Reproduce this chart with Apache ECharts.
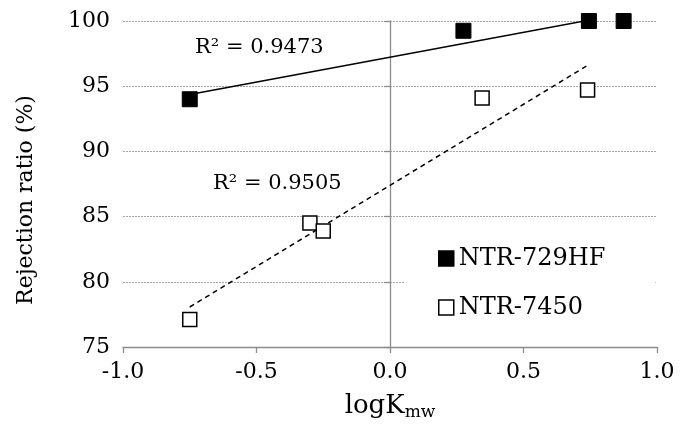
<!DOCTYPE html>
<html>
<head>
<meta charset="utf-8">
<script src="https://cdn.jsdelivr.net/npm/echarts@6/dist/echarts.min.js"></script>
<style>
  html, body { margin: 0; padding: 0; background: #fff; }
  #chart { width: 680px; height: 427px; }
</style>
</head>
<body>
<div id="chart"></div>
<script>
// Membrane rejection vs. logKmw
const seriesNames = ['NTR-729HF', 'NTR-7450'];
const hfLogK = [-0.75, 0.275, 0.745, 0.875];
const hfRejection = [94.0, 99.25, 100.0, 100.0];
const n7450LogK = [-0.75, -0.30, -0.25, 0.345, 0.74];
const n7450Rejection = [77.1, 84.5, 83.9, 94.1, 94.7];
const r2Labels = ['R\u00b2 = 0.9473', 'R\u00b2 = 0.9505'];
const yTitle = 'Rejection ratio (%)';
const xTicks = [-1.0, -0.5, 0.0, 0.5, 1.0];
const yTicks = [75, 80, 85, 90, 95, 100];

const FONT = '"DejaVu Serif", "Liberation Serif", serif';

// ordinary least squares fit, drawn between smallest and largest x
function fitLine(xs, ys) {
  const n = xs.length;
  const mx = xs.reduce((a, b) => a + b, 0) / n;
  const my = ys.reduce((a, b) => a + b, 0) / n;
  let sxy = 0, sxx = 0;
  for (let i = 0; i < n; i++) {
    sxy += (xs[i] - mx) * (ys[i] - my);
    sxx += (xs[i] - mx) * (xs[i] - mx);
  }
  const b = sxy / sxx, a = my - b * mx;
  const x0 = Math.min(...xs), x1 = Math.max(...xs);
  return [[x0, a + b * x0], [x1, a + b * x1]];
}

const pairs = (xs, ys) => xs.map((x, i) => [x, ys[i]]);

const chart = echarts.init(document.getElementById('chart'), null, { renderer: 'canvas' });

chart.setOption({
  animation: false,
  backgroundColor: '#ffffff',
  textStyle: { fontFamily: FONT },
  grid: { left: 123, right: 23, top: 21, bottom: 80, containLabel: false },
  xAxis: {
    type: 'value',
    min: xTicks[0], max: xTicks[xTicks.length - 1], interval: 0.5,
    name: '{a|logK}{b|mw}',
    nameLocation: 'middle',
    nameGap: 44,
    nameTextStyle: {
      rich: {
        a: { fontFamily: FONT, fontSize: 26, color: '#000' },
        b: { fontFamily: FONT, fontSize: 17, color: '#000', padding: [13, 0, 0, 0] }
      }
    },
    axisLine: { onZero: false, lineStyle: { color: '#8c8c8c', width: 1.3 } },
    axisTick: { show: true, inside: false, length: 6, lineStyle: { color: '#8c8c8c', width: 1.3 } },
    axisLabel: { color: '#000', fontSize: 22, fontFamily: FONT, margin: 14, formatter: v => v.toFixed(1) },
    splitLine: { show: false }
  },
  yAxis: [
    {
      type: 'value',
      min: yTicks[0], max: yTicks[yTicks.length - 1], interval: 5,
      axisLine: { show: false },
      axisTick: { show: false },
      axisLabel: { color: '#000', fontSize: 22, fontFamily: FONT, margin: 13 },
      splitLine: { show: true, lineStyle: { color: '#a6a6a6', type: [2, 1], width: 1 } }
    },
    {
      // vertical axis line crossing at logKmw = 0
      type: 'value',
      position: 'left',
      offset: -267,
      min: yTicks[0], max: yTicks[yTicks.length - 1], interval: 5,
      axisLine: { show: true, onZero: false, lineStyle: { color: '#8c8c8c', width: 1.3 } },
      axisTick: { show: true, inside: false, length: 6, lineStyle: { color: '#8c8c8c', width: 1.3 } },
      axisLabel: { show: false },
      splitLine: { show: false }
    }
  ],
  legend: {
    orient: 'vertical',
    left: 405, top: 237,
    itemWidth: 15, itemHeight: 15,
    itemGap: 22,
    padding: [8, 50, 8, 33],
    backgroundColor: '#ffffff',
    textStyle: { color: '#000', fontSize: 24, fontFamily: FONT, lineHeight: 27 },
    data: [
      { name: seriesNames[0], icon: 'rect', itemStyle: { color: '#000', borderColor: '#000', borderWidth: 1.5 } },
      { name: seriesNames[1], icon: 'rect', itemStyle: { color: '#fff', borderColor: '#000', borderWidth: 1.5 } }
    ]
  },
  graphic: [
    { type: 'text', left: 195, top: 37, style: { text: r2Labels[0], fill: '#000', fontSize: 21, fontFamily: FONT } },
    { type: 'text', left: 213, top: 173, style: { text: r2Labels[1], fill: '#000', fontSize: 21, fontFamily: FONT } },
    {
      type: 'text', x: 26, y: 200, rotation: Math.PI / 2,
      style: { text: yTitle, fill: '#000', fontSize: 22, fontFamily: FONT, align: 'center', verticalAlign: 'middle' }
    }
  ],
  series: [
    {
      name: 'fit-hf', type: 'line', silent: true, clip: true,
      data: fitLine(hfLogK, hfRejection),
      symbol: 'none',
      lineStyle: { color: '#000', width: 1.5 },
      z: 2
    },
    {
      name: 'fit-7450', type: 'line', silent: true, clip: true,
      data: fitLine(n7450LogK, n7450Rejection),
      symbol: 'none',
      lineStyle: { color: '#000', width: 1.5, type: [5, 4] },
      z: 2
    },
    {
      name: seriesNames[0], type: 'scatter',
      data: pairs(hfLogK, hfRejection),
      symbol: 'rect', symbolSize: 15,
      itemStyle: { color: '#000', borderColor: '#000', borderWidth: 1, opacity: 1 },
      clip: false,
      z: 3
    },
    {
      name: seriesNames[1], type: 'scatter',
      data: pairs(n7450LogK, n7450Rejection),
      symbol: 'rect', symbolSize: 14,
      itemStyle: { color: '#fff', borderColor: '#000', borderWidth: 1.5, opacity: 1 },
      clip: false,
      z: 3
    }
  ]
});
</script>
</body>
</html>
